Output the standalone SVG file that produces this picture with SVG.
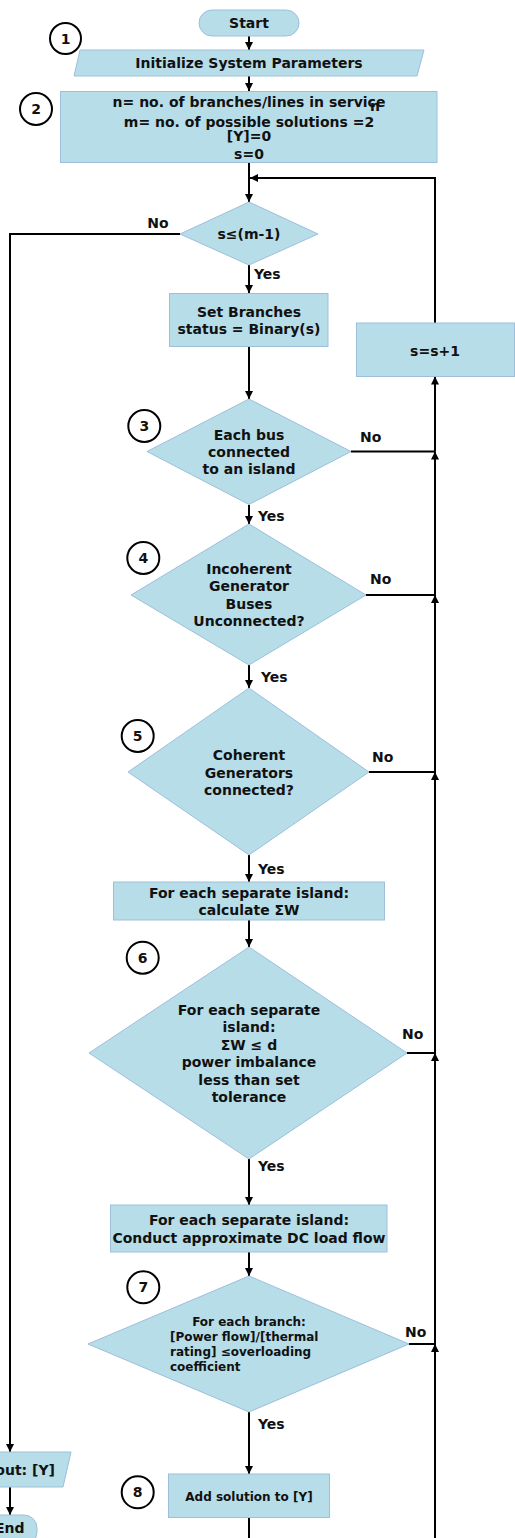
<svg xmlns="http://www.w3.org/2000/svg" width="515" height="1538" viewBox="0 0 515 1538">
<style>
.s{fill:#b7dde8;stroke:#9dbfdc;stroke-width:1}
.t{font-family:"DejaVu Sans",Verdana,sans-serif;font-weight:bold;font-size:14px;fill:#111;text-anchor:middle}
.sm{font-size:12px}
.l{text-anchor:start}
.e{text-anchor:end}
.c{fill:#fff;stroke:#000;stroke-width:2}
.k{fill:none;stroke:#000;stroke-width:2}
</style>
<defs>
<marker id="a" markerUnits="userSpaceOnUse" markerWidth="9" markerHeight="9" refX="8" refY="4" orient="auto"><path d="M0,0 L8,4 L0,8 z" fill="#000"/></marker>
</defs>
<g id="connectors">
<path class="k" d="M249,36 V50" marker-end="url(#a)"/>
<path class="k" d="M249,76 V91" marker-end="url(#a)"/>
<path class="k" d="M249,163 V202" marker-end="url(#a)"/>
<path class="k" d="M435,323 V178 H250" marker-end="url(#a)"/>
<path class="k" d="M180,234 H10 V1452" marker-end="url(#a)"/>
<path class="k" d="M249,265 V293" marker-end="url(#a)"/>
<path class="k" d="M249,347 V399" marker-end="url(#a)"/>
<path class="k" d="M249,505 V524" marker-end="url(#a)"/>
<path class="k" d="M249,665 V688" marker-end="url(#a)"/>
<path class="k" d="M249,855 V882" marker-end="url(#a)"/>
<path class="k" d="M249,920 V947" marker-end="url(#a)"/>
<path class="k" d="M249,1159 V1205" marker-end="url(#a)"/>
<path class="k" d="M249,1252 V1276" marker-end="url(#a)"/>
<path class="k" d="M249,1412 V1474" marker-end="url(#a)"/>
<path class="k" d="M249,1518 V1540"/>
<path class="k" d="M10,1487 V1515" marker-end="url(#a)"/>
<path class="k" d="M351,451.5 H435"/>
<path class="k" d="M366,595 H435"/>
<path class="k" d="M369,772 H435"/>
<path class="k" d="M407,1053 H435"/>
<path class="k" d="M409,1344 H435"/>
<path class="k" d="M435,1540 V1344" marker-end="url(#a)"/>
<path class="k" d="M435,1344 V1053" marker-end="url(#a)"/>
<path class="k" d="M435,1053 V772" marker-end="url(#a)"/>
<path class="k" d="M435,772 V595" marker-end="url(#a)"/>
<path class="k" d="M435,595 V451.5" marker-end="url(#a)"/>
<path class="k" d="M435,451.5 V376.5" marker-end="url(#a)"/>
<text class="t" x="158" y="228">No</text>
<text class="t l" x="254" y="279">Yes</text>
<text class="t l" x="360" y="441.5">No</text>
<text class="t l" x="258" y="521">Yes</text>
<text class="t l" x="370" y="584">No</text>
<text class="t l" x="261" y="682">Yes</text>
<text class="t l" x="372" y="762">No</text>
<text class="t l" x="258" y="874">Yes</text>
<text class="t l" x="402" y="1039">No</text>
<text class="t l" x="258" y="1171">Yes</text>
<text class="t l" x="405" y="1337">No</text>
<text class="t l" x="258" y="1429">Yes</text>
</g>
<g id="n-start"><rect class="s" x="199" y="10" width="100" height="26" rx="13"/><text class="t" x="249" y="28.3">Start</text></g>
<g id="n-c1"><circle class="c" cx="65.5" cy="38.5" r="15.5"/><text class="t" x="65.5" y="43.5">1</text></g>
<g id="n-init"><polygon class="s" points="80,50 424,50 417,76 74,76"/><text class="t" x="249" y="68.3">Initialize System Parameters</text></g>
<g id="n-c2"><circle class="c" cx="36" cy="109" r="16"/><text class="t" x="36" y="114">2</text></g>
<g id="n-params"><rect class="s" x="60.5" y="91.5" width="376.5" height="71"/>
<text class="t" x="249" y="106.5">n= no. of branches/lines in service</text>
<text class="t" x="249" y="126.5">m= no. of possible solutions =2</text>
<text class="t" x="375" y="111" font-size="10">n</text>
<text class="t" x="249" y="141">[Y]=0</text>
<text class="t" x="249" y="158.5">s=0</text></g>
<g id="n-cond"><polygon class="s" points="249,202 318,234 249,265 180,234"/><text class="t" x="249" y="239">s≤(m-1)</text></g>
<g id="n-set"><rect class="s" x="169.5" y="293.5" width="158.5" height="53"/><text class="t" x="249" y="316.5">Set Branches</text><text class="t" x="249" y="334">status = Binary(s)</text></g>
<g id="n-inc"><rect class="s" x="356.5" y="323" width="158" height="53.5"/><text class="t" x="435" y="355.7">s=s+1</text></g>
<g id="n-c3"><circle class="c" cx="144.3" cy="426" r="16"/><text class="t" x="144.3" y="431">3</text></g>
<g id="n-d3"><polygon class="s" points="249,399 351,451.5 249,504.5 147,451.5"/><text class="t" x="249" y="440">Each bus</text><text class="t" x="249" y="457.3">connected</text><text class="t" x="249" y="474.3">to an island</text></g>
<g id="n-c4"><circle class="c" cx="143.3" cy="558" r="16"/><text class="t" x="143.3" y="563">4</text></g>
<g id="n-d4"><polygon class="s" points="249,524 366,595 249,665 131,595"/><text class="t" x="249" y="574">Incoherent</text><text class="t" x="249" y="591.3">Generator</text><text class="t" x="249" y="608.7">Buses</text><text class="t" x="249" y="626">Unconnected?</text></g>
<g id="n-c5"><circle class="c" cx="137.7" cy="736" r="16"/><text class="t" x="137.7" y="741">5</text></g>
<g id="n-d5"><polygon class="s" points="249,688 369,772 249,855 128,772"/><text class="t" x="249" y="760">Coherent</text><text class="t" x="249" y="777.7">Generators</text><text class="t" x="249" y="795">connected?</text></g>
<g id="n-calc"><rect class="s" x="113.5" y="882" width="271" height="38"/><text class="t" x="249" y="898.3">For each separate island:</text><text class="t" x="249" y="915.3">calculate ΣW</text></g>
<g id="n-c6"><circle class="c" cx="142.7" cy="957.7" r="16"/><text class="t" x="142.7" y="962.7">6</text></g>
<g id="n-d6"><polygon class="s" points="249,947 407,1053 249,1159 89,1053"/><text class="t" x="249" y="1015">For each separate</text><text class="t" x="249" y="1032.3">island:</text><text class="t" x="249" y="1050">ΣW ≤ d</text><text class="t" x="249" y="1067.3">power imbalance</text><text class="t" x="249" y="1085">less than set</text><text class="t" x="249" y="1102.3">tolerance</text></g>
<g id="n-dc"><rect class="s" x="110.5" y="1205" width="276.5" height="47"/><text class="t" x="249" y="1225">For each separate island:</text><text class="t" x="249" y="1242.5">Conduct approximate DC load flow</text></g>
<g id="n-c7"><circle class="c" cx="143.3" cy="1287.3" r="16"/><text class="t" x="143.3" y="1292.3">7</text></g>
<g id="n-d7"><polygon class="s" points="249,1276 409,1344 249,1412 88,1344"/><text class="t sm" x="249" y="1326">For each branch:</text><text class="t sm l" x="170" y="1341">[Power flow]/[thermal</text><text class="t sm l" x="170" y="1356">rating] ≤overloading</text><text class="t sm l" x="170" y="1370.5">coefficient</text></g>
<g id="n-c8"><circle class="c" cx="137.7" cy="1492.3" r="16"/><text class="t" x="137.7" y="1497.3">8</text></g>
<g id="n-add"><rect class="s" x="168.5" y="1474" width="161" height="43.5"/><text class="t sm" x="249" y="1501">Add solution to [Y]</text></g>
<g id="n-out"><polygon class="s" points="-60,1452 71,1452 63,1487 -60,1487"/><text class="t e" x="55" y="1475">out: [Y]</text></g>
<g id="n-end"><rect class="s" x="-60" y="1515" width="97" height="30" rx="13"/><text class="t e" x="24.5" y="1533">End</text></g>
</svg>
